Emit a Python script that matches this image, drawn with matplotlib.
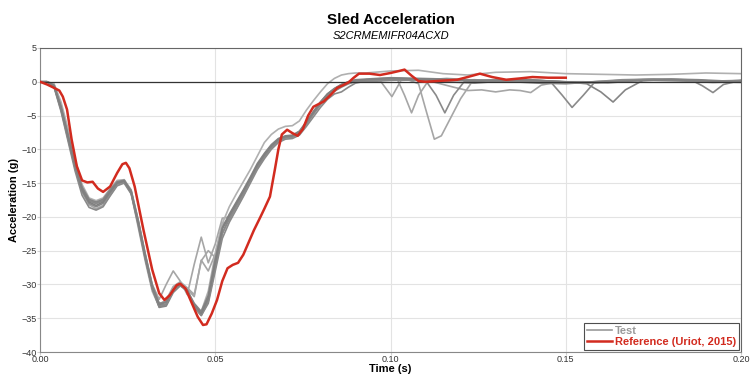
import matplotlib
matplotlib.use("Agg")
import matplotlib.pyplot as plt
from matplotlib.ticker import FormatStrFormatter

plt.rcParams['font.family'] = ['Liberation Sans', 'DejaVu Sans']

# shared time grid for the pulse part of the test curves (s)
t_early = [0.000, 0.002, 0.004, 0.006, 0.008, 0.010, 0.012, 0.014, 0.016, 0.018,
           0.020, 0.022, 0.024, 0.026, 0.028, 0.030, 0.032, 0.034, 0.036, 0.038,
           0.040, 0.042, 0.044, 0.046, 0.048, 0.050, 0.052, 0.054, 0.056, 0.058,
           0.060, 0.062, 0.064, 0.066, 0.068, 0.070, 0.072, 0.074, 0.076, 0.078,
           0.080, 0.082, 0.084, 0.086, 0.088, 0.090]

# test curves, pulse part (g)
test1 = [0, 0, -0.4, -3.5, -7.6, -12.0, -15.6, -17.5, -18.0, -17.6, -16.0, -14.8, -14.5, -16.0, -20.5, -25.5,
         -30.0, -32.2, -30.0, -28.0, -29.5, -31.5, -27.0, -23.0, -26.8, -24.0, -20.2, -20.0, -18.5, -16.5,
         -14.5, -12.5, -11.0, -9.7, -8.6, -8.2, -8.0, -7.5, -6.2, -4.6, -3.2, -2.0, -1.2, -0.6, -0.2, 0.1]
test2 = [0, 0, -0.7, -4.2, -8.5, -12.8, -16.3, -18.2, -18.8, -18.3, -16.8, -15.3, -14.8, -16.5, -21.0, -26.0,
         -30.5, -33.0, -32.3, -30.3, -29.6, -30.5, -31.5, -26.5, -25.0, -26.0, -21.5, -20.3, -18.5, -16.6,
         -14.6, -12.6, -11.0, -9.7, -8.7, -8.2, -8.0, -7.5, -6.1, -4.6, -3.2, -2.0, -1.2, -0.6, -0.2, 0.1]
test3 = [0, 0, -0.5, -3.8, -8.0, -12.3, -15.8, -17.6, -18.0, -17.5, -16.0, -14.8, -14.6, -16.2, -20.6, -25.6,
         -30.2, -32.8, -32.5, -30.6, -29.8, -30.7, -31.8, -26.4, -28.0, -25.5, -21.0, -20.5, -18.8, -16.8,
         -14.8, -12.8, -11.2, -9.8, -8.8, -8.3, -8.1, -7.6, -6.2, -4.7, -3.3, -2.1, -1.3, -0.7, -0.2, 0.1]
test4 = [0, 0, -0.3, -3.0, -7.0, -11.5, -15.2, -17.2, -17.6, -17.2, -15.8, -14.6, -14.5, -16.5, -21.5, -26.5,
         -31.0, -33.3, -32.8, -30.9, -30.0, -31.0, -33.2, -34.0, -31.0, -25.5, -21.0, -18.5, -16.6, -14.8,
         -13.0, -11.0, -9.0, -7.8, -7.0, -6.6, -6.5, -5.8, -4.2, -2.8, -1.5, -0.3, 0.5, 1.0, 1.2, 1.3]
test5 = [0, 0, -0.8, -4.4, -8.8, -13.2, -16.8, -18.6, -19.0, -18.5, -16.9, -15.4, -15.0, -16.6, -21.2, -26.2,
         -30.6, -33.3, -33.0, -31.0, -30.1, -31.0, -33.4, -34.6, -32.5, -27.5, -22.5, -20.3, -18.4, -16.6,
         -14.7, -12.7, -11.1, -9.8, -8.8, -8.3, -8.2, -7.7, -6.3, -4.8, -3.4, -2.2, -1.4, -0.8, -0.3, 0.0]
test6 = [0, 0, -0.6, -3.9, -8.1, -12.4, -15.9, -17.6, -18.0, -17.6, -16.1, -14.9, -14.6, -16.1, -20.4, -25.4,
         -30.0, -32.8, -32.6, -30.9, -30.1, -31.0, -33.2, -34.5, -32.4, -27.2, -22.4, -20.2, -18.3, -16.4,
         -14.4, -12.4, -10.9, -9.6, -8.6, -8.2, -8.1, -7.5, -6.0, -4.5, -3.0, -1.8, -1.0, -0.4, 0.0, 0.2]
test7 = [0, 0, -0.5, -3.6, -7.8, -12.1, -15.6, -17.4, -17.8, -17.4, -16.0, -14.8, -14.6, -16.4, -20.9, -26.0,
         -30.6, -33.4, -33.2, -31.2, -30.2, -30.9, -32.8, -34.0, -31.6, -26.2, -21.6, -19.6, -17.8, -16.0,
         -14.1, -12.1, -10.6, -9.3, -8.4, -8.0, -7.9, -7.3, -5.9, -4.4, -3.0, -1.8, -1.0, -0.4, 0.0, 0.3]
test8 = [0, 0, -0.7, -4.1, -8.4, -12.7, -16.2, -18.0, -18.5, -18.0, -16.5, -15.1, -14.8, -16.4, -20.8, -25.9,
         -30.4, -33.1, -32.9, -31.0, -30.0, -30.9, -33.3, -34.6, -32.8, -28.0, -23.2, -20.8, -18.9, -17.0,
         -15.0, -13.0, -11.4, -10.0, -9.0, -8.5, -8.4, -7.9, -6.6, -5.2, -3.8, -2.6, -1.8, -1.5, -0.8, -0.2]
test9 = [0, 0, -0.6, -4.0, -8.2, -12.5, -16.0, -17.8, -18.3, -17.8, -16.3, -15.0, -14.7, -16.3, -20.8, -25.8,
         -30.3, -33.0, -32.6, -30.8, -29.9, -30.8, -33.0, -34.3, -32.0, -26.8, -21.8, -19.8, -18.0, -16.2,
         -14.3, -12.3, -10.8, -9.5, -8.5, -8.1, -8.0, -7.4, -6.0, -4.5, -3.1, -1.9, -1.1, -0.5, -0.1, 0.2]

# test curves, ringing after the pulse (own time points, s / g)
tail1_t = [0.093, 0.097, 0.1004, 0.103, 0.107, 0.112, 0.118, 0.122, 0.126, 0.130, 0.134, 0.137, 0.140, 0.143,
           0.148, 0.155, 0.162, 0.170, 0.178, 0.186, 0.194, 0.200]
tail1_a = [0.3, 0.2, -2.2, 0.2, 0.3, 0.0, -0.8, -1.3, -1.2, -1.5, -1.2, -1.3, -1.6, -0.5,
           0.0, 0.0, -0.2, 0.2, 0.3, 0.2, 0.0, 0.1]
tail2_t = [0.093, 0.098, 0.102, 0.104, 0.106, 0.108, 0.111, 0.116, 0.122, 0.128, 0.135, 0.142, 0.150, 0.158,
           0.166, 0.175, 0.184, 0.192, 0.200]
tail2_a = [0.3, 0.5, 0.3, -2.0, -4.6, -2.0, 0.3, 0.5, 0.3, 0.2, 0.1, 0.0, -0.2, 0.0,
           0.2, 0.4, 0.3, 0.1, 0.0]
tail3_t = [0.093, 0.100, 0.105, 0.108, 0.110, 0.1125, 0.1145, 0.117, 0.120, 0.123, 0.128, 0.135, 0.142, 0.150,
           0.158, 0.166, 0.175, 0.184, 0.192, 0.200]
tail3_a = [0.2, 0.4, 0.3, -0.3, -4.0, -8.5, -8.0, -5.5, -2.5, -0.2, 0.2, 0.0, 0.1, -0.1,
           0.0, 0.2, 0.3, 0.2, 0.0, -0.1]
tail4_t = [0.093, 0.100, 0.108, 0.115, 0.122, 0.130, 0.140, 0.150, 0.160, 0.170, 0.180, 0.190, 0.200]
tail4_a = [1.3, 1.6, 1.7, 1.2, 1.0, 1.4, 1.5, 1.2, 1.1, 1.0, 1.1, 1.3, 1.2]
tail5_t = [0.093, 0.100, 0.106, 0.110, 0.113, 0.1155, 0.118, 0.121, 0.128, 0.135, 0.142, 0.150, 0.158, 0.166,
           0.175, 0.184, 0.192, 0.200]
tail5_a = [0.0, 0.2, 0.3, 0.2, -2.0, -4.6, -2.0, 0.0, 0.2, 0.0, -0.2, -0.3, 0.0, 0.3,
           0.4, 0.2, 0.1, 0.2]
tail6_t = [0.093, 0.100, 0.108, 0.116, 0.124, 0.132, 0.140, 0.146, 0.149, 0.1518, 0.155, 0.158, 0.166, 0.175,
           0.184, 0.192, 0.200]
tail6_a = [0.2, 0.5, 0.4, 0.2, 0.3, 0.1, 0.0, -0.2, -2.0, -3.8, -2.0, -0.2, 0.1, 0.2,
           0.1, -0.1, 0.0]
tail7_t = [0.093, 0.100, 0.108, 0.116, 0.124, 0.132, 0.140, 0.148, 0.156, 0.160, 0.1635, 0.167, 0.172, 0.180,
           0.188, 0.196, 0.200]
tail7_a = [0.4, 0.6, 0.5, 0.4, 0.2, 0.3, 0.2, 0.1, -0.3, -1.5, -3.0, -1.2, 0.2, 0.4,
           0.3, 0.1, 0.2]
tail8_t = [0.093, 0.100, 0.108, 0.116, 0.124, 0.132, 0.140, 0.148, 0.156, 0.164, 0.172, 0.180, 0.186, 0.189,
           0.192, 0.195, 0.200]
tail8_a = [0.1, 0.3, 0.2, 0.0, -0.2, 0.1, 0.3, 0.0, -0.2, 0.1, 0.3, 0.4, 0.2, -0.6,
           -1.6, -0.4, 0.2]
tail9_t = [0.093, 0.100, 0.108, 0.116, 0.124, 0.132, 0.140, 0.148, 0.156, 0.164, 0.172, 0.180, 0.188, 0.196,
           0.200]
tail9_a = [0.3, 0.5, 0.4, 0.3, 0.1, 0.2, 0.3, 0.0, -0.1, 0.0, 0.2, 0.3, 0.2, 0.0, 0.1]

# reference corridor curve (Uriot, 2015)
ref_t = [0.0, 0.002, 0.004, 0.0055, 0.0065, 0.0077, 0.009, 0.0105, 0.012, 0.0135, 0.015, 0.0165, 0.018, 0.020,
         0.022, 0.0235, 0.0245, 0.0255, 0.027, 0.0295, 0.032, 0.034, 0.0355, 0.037, 0.039, 0.040, 0.0415,
         0.043, 0.045, 0.0465, 0.0475, 0.049, 0.0505, 0.052, 0.0535, 0.055, 0.0565, 0.058, 0.0595, 0.061,
         0.0628, 0.064, 0.0656, 0.067, 0.068, 0.069, 0.0705, 0.072, 0.0735, 0.075, 0.0765, 0.078, 0.0795,
         0.081, 0.083, 0.0848, 0.0865, 0.088, 0.0895, 0.091, 0.094, 0.097, 0.100, 0.1025, 0.104, 0.106, 0.108,
         0.110, 0.113, 0.116, 0.119, 0.122, 0.1255, 0.129, 0.133, 0.137, 0.1405, 0.145, 0.150]
ref_a = [0.0, -0.4, -0.9, -1.3, -2.2, -4.1, -8.5, -12.5, -14.6, -14.9, -14.8, -15.8, -16.3, -15.5,
         -13.5, -12.2, -12.0, -12.8, -15.5, -21.9, -27.8, -31.3, -32.3, -31.6, -30.1, -29.9, -30.6,
         -32.4, -34.8, -36.0, -35.9, -34.3, -32.3, -29.5, -27.6, -27.1, -26.8, -25.6, -23.8, -22.0,
         -20.1, -18.8, -17.0, -13.0, -10.0, -7.8, -7.1, -7.6, -8.0, -7.0, -5.0, -3.7, -3.3,
         -2.9, -1.9, -0.9, -0.5, -0.1, 0.6, 1.2, 1.2, 1.0, 1.3, 1.6, 1.8, 0.9, 0.1,
         0.0, 0.1, 0.2, 0.3, 0.7, 1.2, 0.7, 0.3, 0.5, 0.7, 0.6, 0.6]

tests = [(test1, tail1_t, tail1_a), (test2, tail2_t, tail2_a), (test3, tail3_t, tail3_a),
         (test4, tail4_t, tail4_a), (test5, tail5_t, tail5_a), (test6, tail6_t, tail6_a),
         (test7, tail7_t, tail7_a), (test8, tail8_t, tail8_a), (test9, tail9_t, tail9_a)]
test_colors = ['#a6a6a6', '#a6a6a6', '#a6a6a6', '#b0b0b0', '#8a8a8a',
               '#8a8a8a', '#858585', '#8a8a8a', '#808080']

fig = plt.figure(figsize=(7.51, 3.74), dpi=100)
ax = fig.add_axes([0.0533, 0.0588, 0.9334, 0.8129])

for i, (early, tt, ta) in enumerate(tests):
    ax.plot(t_early + tt, early + ta, color=test_colors[i], lw=1.2,
            label='Test' if i == 0 else None, zorder=2)

ax.plot(ref_t, ref_a, color='#d22b1f', lw=1.8, label='Reference (Uriot, 2015)', zorder=4)
ax.axhline(0, color='#333333', lw=0.9, zorder=3)

ax.set_xlim(0, 0.2)
ax.set_ylim(-40, 5)
ax.set_xticks([0.0, 0.05, 0.10, 0.15, 0.20])
ax.set_yticks(range(-40, 6, 5))
ax.xaxis.set_major_formatter(FormatStrFormatter('%.2f'))
ax.grid(color='#e3e3e3', lw=0.8)
ax.set_axisbelow(True)
ax.tick_params(labelsize=6.5, labelcolor='#333333', color='#d0d0d0', length=2, width=0.8, pad=0.5)
for side in ['left', 'bottom']:
    ax.spines[side].set_color('#888888')
for side in ['top', 'right']:
    ax.spines[side].set_color('#666666')
ax.set_xlabel('Time (s)', fontsize=8, fontweight='bold', labelpad=0)
ax.set_ylabel('Acceleration (g)', fontsize=8, fontweight='bold', labelpad=2)

fig.text(0.52, 0.935, 'Sled Acceleration', ha='center', fontsize=11, fontweight='bold')
fig.text(0.52, 0.895, 'S2CRMEMIFR04ACXD', ha='center', fontsize=8, style='italic')

leg = ax.legend(loc='lower right', fontsize=8, frameon=True, fancybox=False,
                borderpad=0.25, labelspacing=0.1, handlelength=2.2, handletextpad=0.3,
                borderaxespad=0.2)
leg.get_frame().set_edgecolor('#222222')
leg.get_frame().set_linewidth(0.8)
leg.legend_handles[0].set_color('#999999')
for txt, col in zip(leg.get_texts(), ['#999999', '#d22b1f']):
    txt.set_color(col)
    txt.set_fontweight('bold')

fig.savefig('out.png', dpi=100)
